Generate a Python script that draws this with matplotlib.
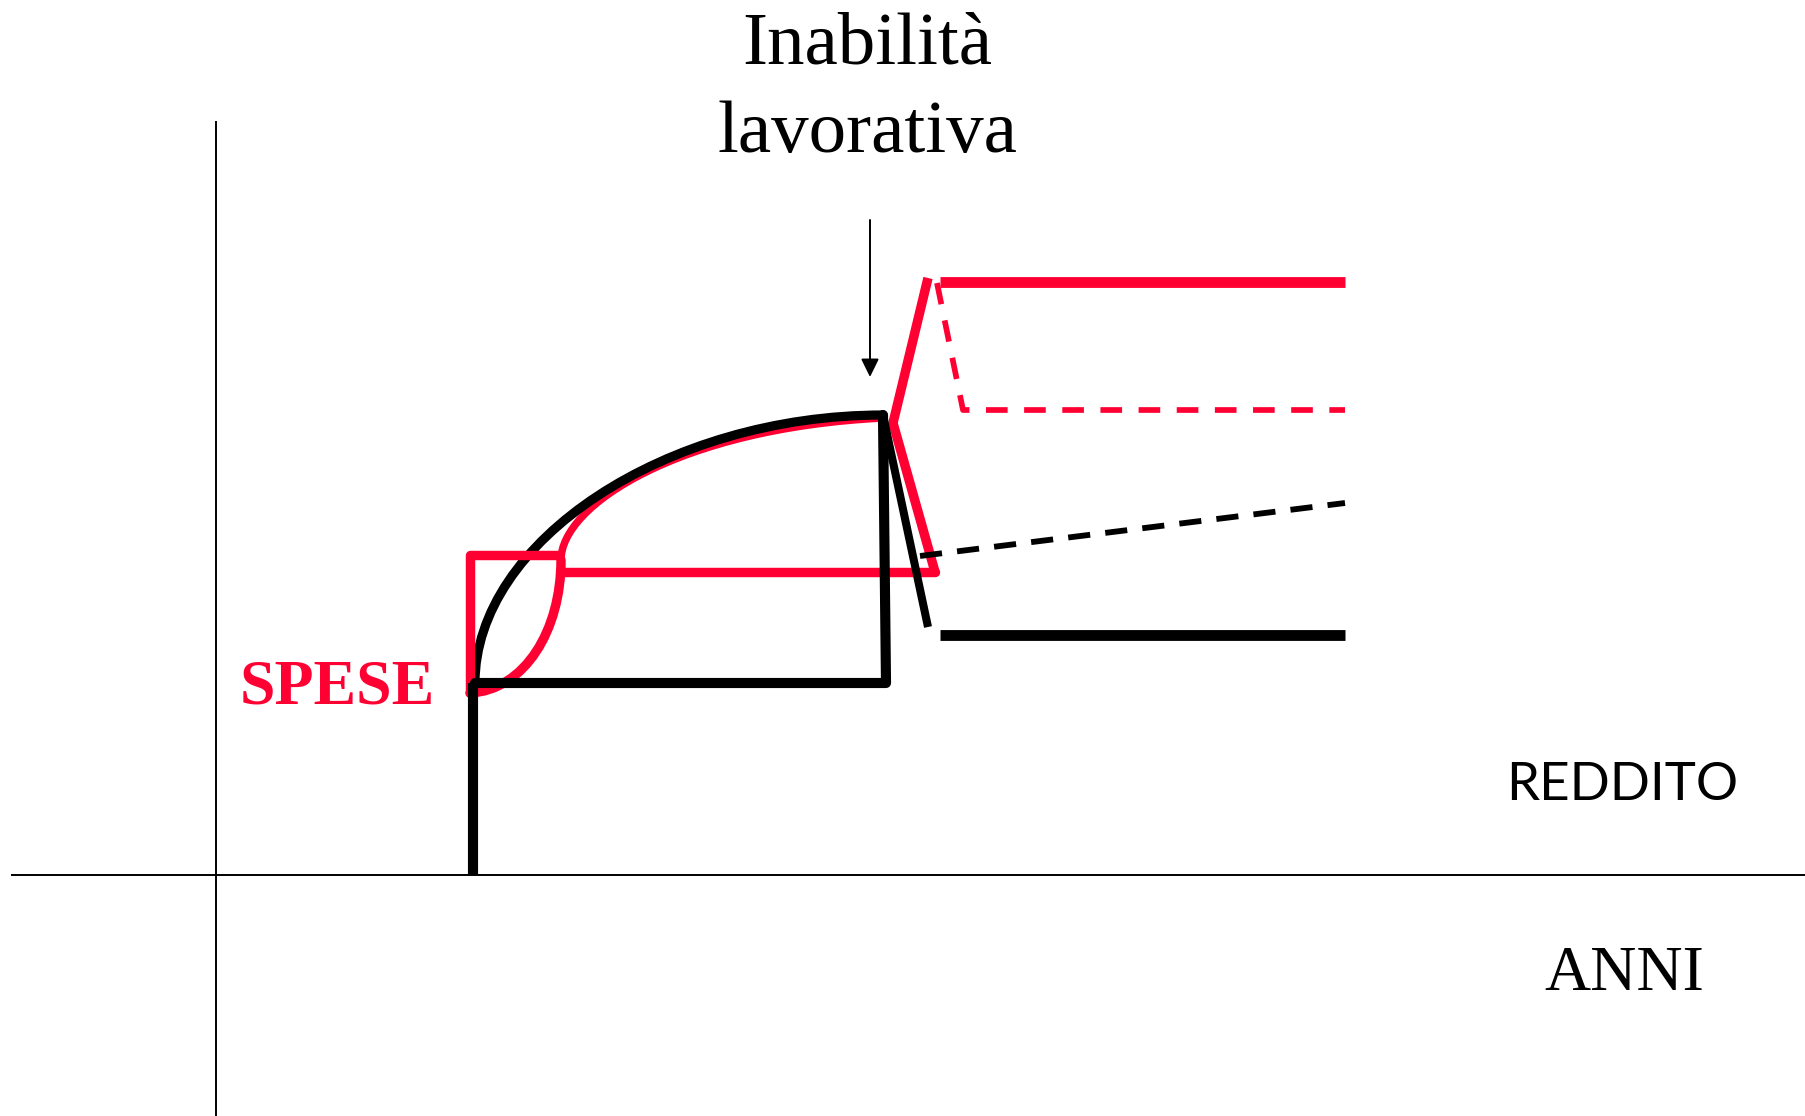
import matplotlib
matplotlib.use("Agg")
import matplotlib.pyplot as plt
from matplotlib.path import Path
from matplotlib.patches import PathPatch

RED = "#FF0033"
BLACK = "#000000"

# ---- data (x: anni, y: reddito / spese, arbitrary units) ----
axis_x = [-205.5, 1589.5]
axis_y = [754, -241]

# black (reddito)
start_x = [256.5, 256.5]
start_y = [0, 192]
rect_x = [258.5, 669.5, 666.5]
rect_y = [192, 192, 460]
arc_x = [258.5, 258.5, 450, 666.5]      # bezier control points
arc_y = [192, 334, 460, 460]
drop_x = [666.5, 711.5]
drop_y = [460, 248]
after_x = [723.5, 1128.5]
after_y = [240, 240]
after_dash_x = [703.5, 1128.5]
after_dash_y = [319, 372]

# red (spese)
r_rect_x = [253.5, 253.5, 340.5]
r_rect_y = [182, 320, 320]
s1_x = [253.5, 308.5, 344.5, 344.5]      # bezier control points
s1_y = [182, 185, 245, 315]
s2_x = [344.5, 344.5, 463.5, 666.5]
s2_y = [315, 370, 447, 457]
r_flat_x = [346.5, 718.5]
r_flat_y = [303, 303]
r_zig_x = [718.5, 676.5, 711.5]
r_zig_y = [303, 452, 597]
r_top_x = [723.5, 1128.5]
r_top_y = [593, 593]
r_dash_x = [720.5, 746.5, 1128.5]
r_dash_y = [592, 465, 465]

arrow_x = 653.5
arrow_y = [655, 498]

fig = plt.figure(figsize=(18.06, 11.16), dpi=100)
ax = fig.add_axes([0, 0, 1, 1])
ax.set_xlim(-216.5, 1589.5)
ax.set_ylim(-241, 875)
ax.axis("off")

# axes
ax.plot(axis_x, [0, 0], color=BLACK, lw=1.4, solid_capstyle="butt")
ax.plot([0, 0], axis_y, color=BLACK, lw=1.4, solid_capstyle="butt")


def bez(xs, ys, color, lw):
    verts = list(zip(xs, ys))
    p = Path(verts, [Path.MOVETO, Path.CURVE4, Path.CURVE4, Path.CURVE4])
    ax.add_patch(PathPatch(p, fill=False, edgecolor=color, lw=lw, capstyle="round"))


LW_R = 6.8
LW_B = 7.3

# red
ax.plot(r_rect_x, r_rect_y, color=RED, lw=LW_R, solid_joinstyle="round", solid_capstyle="round")
bez(s1_x, s1_y, RED, LW_R)
bez(s2_x, s2_y, RED, 5.4)
ax.plot(r_flat_x, r_flat_y, color=RED, lw=LW_R, solid_capstyle="round")
ax.plot(r_zig_x, r_zig_y, color=RED, lw=LW_R, solid_joinstyle="miter", solid_capstyle="butt")
ax.plot(r_top_x, r_top_y, color=RED, lw=7.8, solid_capstyle="butt")
ax.plot(r_dash_x, r_dash_y, color=RED, lw=4.1, dashes=(3.8, 2.9), solid_capstyle="butt")

# black
ax.plot(start_x, start_y, color=BLACK, lw=LW_B, solid_capstyle="butt")
ax.plot(rect_x, rect_y, color=BLACK, lw=LW_B, solid_joinstyle="round", solid_capstyle="round")
bez(arc_x, arc_y, BLACK, 6.6)
ax.plot(drop_x, drop_y, color=BLACK, lw=5.8, solid_capstyle="butt")
ax.plot(after_x, after_y, color=BLACK, lw=7.8, solid_capstyle="butt")
ax.plot(after_dash_x, after_dash_y, color=BLACK, lw=4.2, dashes=(3.8, 2.6))

# arrow
ax.annotate("", xy=(arrow_x, arrow_y[1]), xytext=(arrow_x, arrow_y[0]),
            arrowprops=dict(arrowstyle="-|>,head_length=0.55,head_width=0.27",
                            mutation_scale=20, lw=1.4, color=BLACK,
                            shrinkA=0, shrinkB=0))

# texts
serif = ["Liberation Serif", "DejaVu Serif"]
ax.text(651, 812, "Inabilità", fontsize=54, family=serif, ha="center", va="baseline")
ax.text(651, 723, "lavorativa", fontsize=54, family=serif, ha="center", va="baseline")
ax.text(120.5, 172, "SPESE", fontsize=46, family=serif, fontweight="bold",
        color=RED, ha="center", va="baseline")
ax.text(1406, 75, "REDDITO", fontsize=38, family=["Lato", "DejaVu Sans"],
        ha="center", va="baseline")
ax.text(1408, -115, "ANNI", fontsize=46, family=serif, ha="center", va="baseline")

fig.savefig("out.png", dpi=100, facecolor="white")
